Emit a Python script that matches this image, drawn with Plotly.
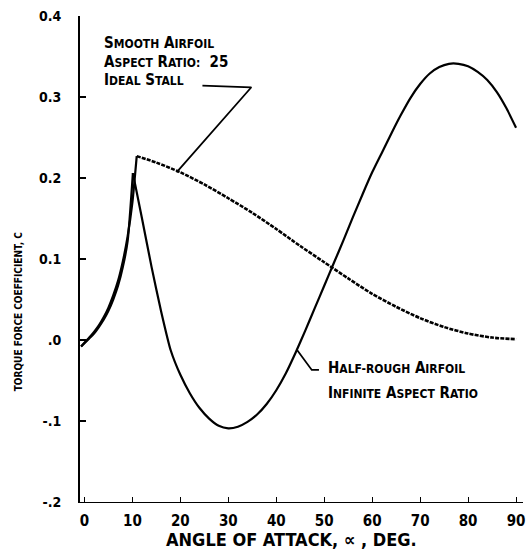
import plotly.graph_objects as go

# ---- data (angle of attack in deg, torque force coefficient) ----
smooth_rise_alpha = [-0.7, 1.0, 2.0, 3.0, 4.0, 5.0, 6.0, 7.0, 8.0, 9.0, 10.0, 10.9]
smooth_rise_cq = [-0.008, 0.003, 0.010, 0.018, 0.028, 0.040, 0.055, 0.073, 0.097, 0.128, 0.170, 0.227]
smooth_fall_alpha = [10.9, 15, 20, 25, 30, 35, 40, 45, 50, 55, 60, 65, 70, 75, 80, 85, 90]
smooth_fall_cq = [0.227, 0.219, 0.207, 0.192, 0.175, 0.157, 0.137, 0.116, 0.096, 0.076, 0.057, 0.041, 0.027,
                  0.016, 0.008, 0.003, 0.001]

rough_rise_alpha = [-0.7, 1.0, 2.0, 3.0, 4.0, 5.0, 6.0, 7.0, 8.0, 9.0, 10.1]
rough_rise_cq = [-0.008, 0.002, 0.008, 0.016, 0.025, 0.036, 0.050, 0.067, 0.090, 0.122, 0.206]
rough_fall_alpha = [10.1, 12, 14, 16, 18, 20, 22, 24, 26, 28, 30, 32, 34, 36, 38, 40, 42, 44, 46, 48, 50, 52, 54,
                    56, 58, 60, 62, 64, 66, 68, 70, 72, 74, 76, 78, 80, 82, 84, 86, 88, 90]
rough_fall_cq = [0.206, 0.150, 0.090, 0.035, -0.013, -0.043, -0.066, -0.084, -0.097, -0.106, -0.109, -0.107,
                 -0.101, -0.092, -0.079, -0.062, -0.041, -0.016, 0.011, 0.039, 0.067, 0.095, 0.123, 0.152, 0.180,
                 0.207, 0.231, 0.255, 0.278, 0.299, 0.316, 0.329, 0.337, 0.341, 0.341, 0.338, 0.331, 0.321, 0.306,
                 0.286, 0.262]

x_ticks = [0, 10, 20, 30, 40, 50, 60, 70, 80, 90]
x_tick_labels = ["0", "10", "20", "30", "40", "50", "60", "70", "80", "90"]
y_ticks = [-0.2, -0.1, 0.0, 0.1, 0.2, 0.3, 0.4]
y_tick_labels = ["-.2", "-.1", ".0", "0.1", "0.2", "0.3", "0.4"]

FONT = "DejaVu Sans Condensed, Liberation Sans Narrow, Roboto Condensed, Arial Narrow, sans-serif"


def small_caps(text, big=15, small=12):
    out = []
    for word in text.split(" "):
        if not word:
            out.append("")
            continue
        if word[0].isdigit():
            out.append(f"<span style='font-size:{big}px'>{word}</span>")
            continue
        first, rest = word[0], word[1:]
        s = f"<span style='font-size:{big}px'>{first}</span>"
        if rest:
            s += f"<span style='font-size:{small}px'>{rest}</span>"
        out.append(s)
    return "<b>" + " ".join(out) + "</b>"


fig = go.Figure()
line_black = dict(color="black", width=2.2)
fig.add_trace(go.Scatter(x=rough_rise_alpha, y=rough_rise_cq, mode="lines", line=dict(line_black, shape="spline", smoothing=0.6)))
fig.add_trace(go.Scatter(x=rough_fall_alpha, y=rough_fall_cq, mode="lines", line=dict(line_black, shape="spline", smoothing=0.6)))
fig.add_trace(go.Scatter(x=smooth_rise_alpha, y=smooth_rise_cq, mode="lines", line=dict(line_black, shape="spline", smoothing=0.6)))
fig.add_trace(go.Scatter(x=smooth_fall_alpha, y=smooth_fall_cq, mode="lines",
                         line=dict(color="black", width=2.6, dash="4px,1.2px", shape="spline", smoothing=0.8)))

# leader lines
fig.add_trace(go.Scatter(x=[24.6, 34.8, 19.2], y=[0.314, 0.312, 0.207], mode="lines",
                         line=dict(color="black", width=1.8)))
fig.add_trace(go.Scatter(x=[44.3, 47.4, 48.9], y=[-0.012, -0.037, -0.037], mode="lines",
                         line=dict(color="black", width=1.8)))

annos = []
for txt, yv in [("SMOOTH AIRFOIL", 0.367), ("ASPECT RATIO:  25", 0.343), ("IDEAL STALL", 0.321)]:
    annos.append(dict(x=3.6, y=yv, xref="x", yref="y", text=small_caps(txt), showarrow=False,
                      xanchor="left", yanchor="middle", font=dict(family=FONT, size=15, color="black")))
for txt, yv in [("HALF-ROUGH AIRFOIL", -0.035), ("INFINITE ASPECT RATIO", -0.065)]:
    annos.append(dict(x=50.3, y=yv, xref="x", yref="y", text=small_caps(txt), showarrow=False,
                      xanchor="left", yanchor="middle", font=dict(family=FONT, size=15, color="black")))
annos.append(dict(x=292, y=539, text="<b>ANGLE OF ATTACK, ∝ , DEG.</b>", showarrow=False,
                  font=dict(family=FONT, size=18, color="black")))
annos.append(dict(x=18, y=312, text="<b>TORQUE FORCE COEFFICIENT, C</b>", textangle=-90, showarrow=False,
                  font=dict(family=FONT, size=10, color="black")))

# convert pixel-positioned axis titles to paper coords
L, R, T, B = 80, 6, 16, 47
W, H = 531, 549
pw, ph = W - L - R, H - T - B
for a in annos[-2:]:
    px, py = a["x"], a["y"]
    a["x"] = (px - L) / pw
    a["y"] = 1 - (py - T) / ph
    a["xref"] = "paper"
    a["yref"] = "paper"
    a["xanchor"] = "center"
    a["yanchor"] = "middle"

fig.update_layout(
    width=W, height=H,
    margin=dict(l=L, r=R, t=T, b=B, pad=0),
    plot_bgcolor="white", paper_bgcolor="white",
    showlegend=False,
    annotations=annos,
    font=dict(family=FONT, size=13, color="black"),
)
fig.update_xaxes(range=[-0.93, 91.45], showgrid=False, zeroline=False, showline=True, linecolor="black",
                 linewidth=1.3, ticks="inside", ticklen=5, tickcolor="black", tickwidth=1.3,
                 tickvals=x_ticks, ticktext=x_tick_labels, ticklabelstandoff=5,
                 tickfont=dict(family=FONT, size=15, color="black", weight="bold"))
fig.update_yaxes(range=[-0.2, 0.4], showgrid=False, zeroline=False, showline=True, linecolor="black",
                 linewidth=1.8, ticks="inside", ticklen=6, tickcolor="black", tickwidth=1.5,
                 tickvals=y_ticks, ticktext=y_tick_labels, ticklabelstandoff=14,
                 tickfont=dict(family=FONT, size=14, color="black", weight="bold"))

fig.write_html("out.html")
